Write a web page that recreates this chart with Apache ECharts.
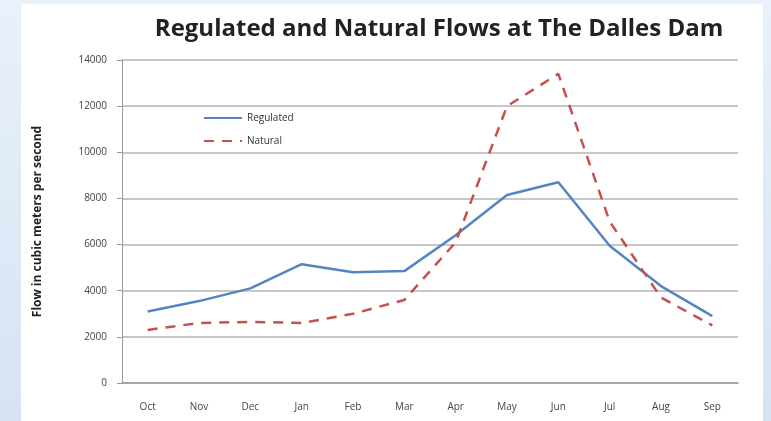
<!DOCTYPE html>
<html lang="en">
<head>
    <meta charset="UTF-8">
    <title>The Dalles Dam flows</title>
    <script src="https://cdn.jsdelivr.net/npm/echarts@6/dist/echarts.min.js"></script>
    <style>
        html, body { margin: 0; padding: 0; }
        body {
            width: 771px; height: 421px; position: relative; overflow: hidden;
            background: linear-gradient(180deg, #e9f1fa 0%, #d5e3f3 100%);
        }
        .panel { position: absolute; left: 21px; top: 4px; width: 742px; height: 417px; background: #fff; }
        #flow-chart { position: absolute; left: 0; top: 0; width: 771px; height: 421px; }
    </style>
</head>
<body>
<div class="panel"></div>
<div id="flow-chart"></div>

<script>
    var months = ['Oct', 'Nov', 'Dec', 'Jan', 'Feb', 'Mar', 'Apr', 'May', 'Jun', 'Jul', 'Aug', 'Sep'];
    var regulated = [3100, 3550, 4100, 5150, 4800, 4850, 6400, 8150, 8700, 5950, 4200, 2900];
    var natural = [2300, 2600, 2650, 2600, 3000, 3600, 6100, 12000, 13400, 7000, 3700, 2500];

    var myChart = echarts.init(document.getElementById('flow-chart'));
    var option = {
        title: {
            text: 'Regulated and Natural Flows at The Dalles Dam',
            left: 434,
            top: 12,
            textAlign: 'center',
            textStyle: {
                fontFamily: 'Open Sans',
                fontSize: 24,
                fontWeight: 'bold',
                color: '#222'
            }
        },
        legend: {
            orient: 'vertical',
            left: 198,
            top: 108,
            itemWidth: 38,
            itemHeight: 10,
            itemGap: 13,
            itemStyle: { opacity: 0 },
            textStyle: { fontFamily: 'Open Sans', fontSize: 10, color: '#333' },
            data: ['Regulated', 'Natural']
        },
        grid: { left: 122, right: 33, top: 60, bottom: 38 },
        xAxis: {
            type: 'category',
            data: months,
            boundaryGap: true,
            axisLine: { lineStyle: { color: '#9a9a9a', width: 1.5 } },
            axisTick: { show: false },
            axisLabel: { margin: 19, fontFamily: 'Open Sans', fontSize: 10, color: '#444' }
        },
        yAxis: {
            type: 'value',
            min: 0,
            max: 14000,
            interval: 2000,
            name: 'Flow in cubic meters per second',
            nameLocation: 'middle',
            nameGap: 78,
            nameTextStyle: { fontFamily: 'Open Sans', fontSize: 12, fontWeight: 'bold', color: '#222' },
            axisLine: { show: true, lineStyle: { color: '#9a9a9a' } },
            axisTick: { show: true, length: 5, lineStyle: { color: '#9a9a9a' } },
            axisLabel: {
                margin: 15, fontFamily: 'Open Sans', fontSize: 10, color: '#444',
                formatter: function (v) { return String(v); }
            },
            splitLine: { lineStyle: { color: '#b4b4b4', width: 1.5 } }
        },
        series: [{
            name: 'Regulated',
            type: 'line',
            data: regulated,
            symbol: 'none',
            color: '#5585c0',
            lineStyle: { width: 2.5 }
        }, {
            name: 'Natural',
            type: 'line',
            data: natural,
            symbol: 'none',
            color: '#c4504f',
            lineStyle: { width: 2.5, type: [10, 8] }
        }]
    };
    myChart.setOption(option);
</script>
</body>
</html>
